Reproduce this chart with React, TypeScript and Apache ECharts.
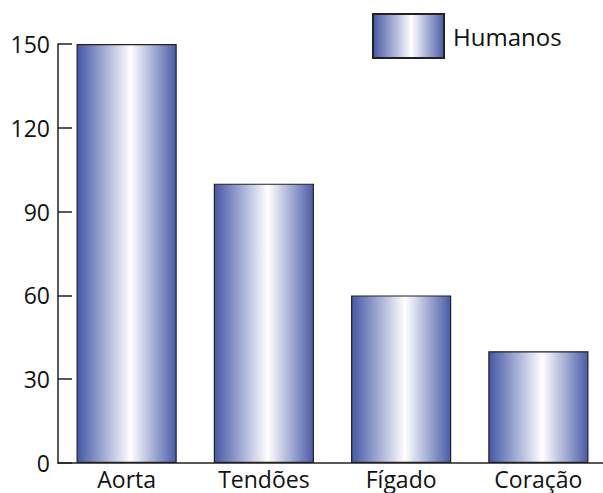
import React, { useEffect, useRef } from "react";
import * as echarts from "echarts";

const categories = ["Aorta", "Tendões", "Fígado", "Coração"];
const humanos = [150, 100, 60, 40];
const seriesName = "Humanos";

export default function App() {
  const ref = useRef<HTMLDivElement>(null);
  useEffect(() => {
    if (!ref.current) return;
    const chart = echarts.init(ref.current, undefined, { renderer: "svg" });
    const grad = new echarts.graphic.LinearGradient(0, 0, 1, 0, [
      { offset: 0, color: "#4457a6" },
      { offset: 0.54, color: "#ffffff" },
      { offset: 1, color: "#4a5ca9" },
    ]);
    const font = "'Open Sans', sans-serif";
    chart.setOption({
      animation: false,
      backgroundColor: "#ffffff",
      grid: { left: 58, right: -4, top: 44, bottom: 30, outerBoundsMode: "none", containLabel: false },
      legend: {
        left: 367,
        top: 8,
        itemWidth: 71,
        itemHeight: 44,
        itemGap: 10,
        icon: "rect",
        data: [seriesName],
        textStyle: { fontFamily: font, fontSize: 24, color: "#111", padding: [0, 0, 0, 4] },
      },
      xAxis: {
        type: "category",
        data: categories,
        axisLine: { lineStyle: { color: "#222", width: 1.5 } },
        axisTick: { inside: true, length: 10, lineStyle: { color: "#222", width: 1.5 } },
        axisLabel: { fontFamily: font, fontSize: 23, color: "#111", margin: 4 },
      },
      yAxis: {
        type: "value",
        min: 0,
        max: 150,
        interval: 30,
        axisLine: { show: true, lineStyle: { color: "#222", width: 1.5 } },
        axisTick: { show: true, inside: true, length: 14, lineStyle: { color: "#222", width: 1.5 } },
        axisLabel: { fontFamily: font, fontSize: 23, color: "#111", margin: 8 },
        splitLine: { show: false },
      },
      series: [
        {
          name: seriesName,
          type: "bar",
          data: humanos,
          barCategoryGap: "27%",
          itemStyle: { color: grad, borderColor: "#222", borderWidth: 1.2 },
        },
      ],
    });
    return () => chart.dispose();
  }, []);
  return <div ref={ref} style={{ width: 603, height: 493, position: "absolute", left: 0, top: 0 }} />;
}
